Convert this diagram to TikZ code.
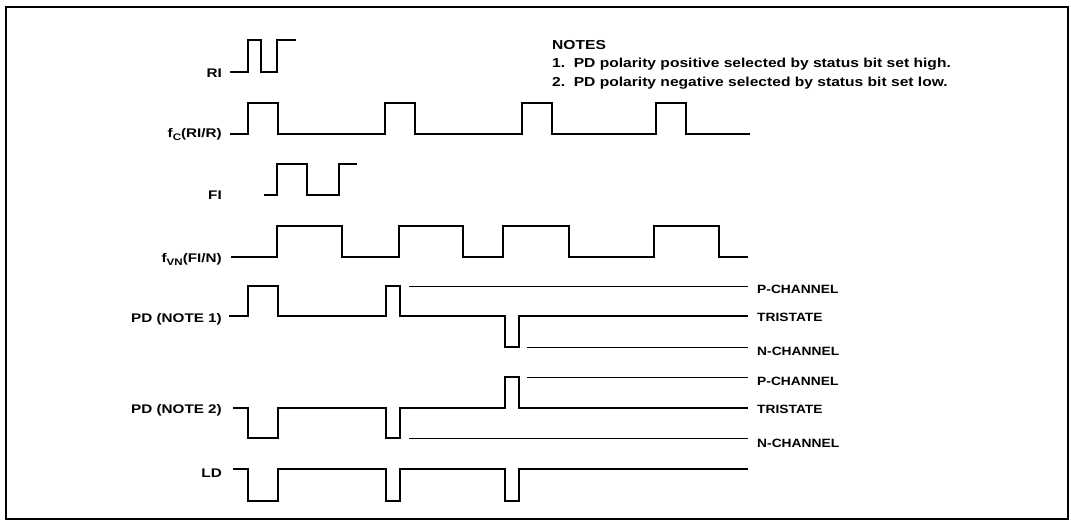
\documentclass[tikz,border=0pt]{standalone}
\usepackage{fontspec}
\setmainfont{Liberation Sans}
\usetikzlibrary{positioning}
\tikzset{wave/.style={line width=1.6pt},
         lead/.style={line width=0.9pt},
         sig/.style={anchor=base east,inner sep=0pt,font=\fontsize{12.5}{14}\selectfont\bfseries},
         chan/.style={inner sep=0pt,font=\fontsize{12}{15}\selectfont\bfseries}}
\newcommand{\lowsub}[1]{\raisebox{-3pt}{\fontsize{9.5}{10}\selectfont #1}}
\newcommand{\wide}[2][1.2]{\scalebox{#1}[1]{#2}}

\begin{document}
\begin{tikzpicture}[x=1pt,y=-1pt]
                   \useasboundingbox (0,0) rectangle (1071,524);
                   \draw[line width=2pt] (6,7) rectangle (1068,519);
                   \node[anchor=north west,inner sep=0pt,align=left,
                         font=\fontsize{13}{18.4}\selectfont\bfseries] (notes) at (552,40)
                        {\wide{NOTES}\\
                         \wide{\makebox[18pt][l]{1.}PD polarity positive selected by status bit set high.}\\
                         \wide{\makebox[18pt][l]{2.}PD polarity negative selected by status bit set low.}};
                   \node[sig] (ri)  at (222,78)  {\wide[1.22]{RI}};
                   \node[sig] (fc)  at (222,138) {\wide[1.22]{f\lowsub{C}(RI/R)}};
                   \node[sig] (fi)  at (222,200) {\wide[1.22]{FI}};
                   \node[sig] (fvn) at (222,262) {\wide[1.22]{f\lowsub{VN}(FI/N)}};
                   \node[sig] (pd1) at (222,322) {\wide[1.22]{PD (NOTE 1)}};
                   \node[sig] (pd2) at (222,413) {\wide[1.22]{PD (NOTE 2)}};
                   \node[sig] (ld)  at (222,477) {\wide[1.22]{LD}};
                    \draw[wave] (230,72) -| (248,40) -| (261,72) -| (277,40) -- (296,40);
                    \draw[wave] (230,134) -| (248,103) -| (278,134) -| (385,103) -| (415,134)
                          -| (522,103) -| (552,134) -| (656,103) -| (686,134) -- (750,134);
                    \draw[wave] (264,195) -| (277,164) -| (307,195) -| (339,164) -- (357,164);
                    \draw[wave] (231,257) -| (277,226) -| (342,257) -| (399,226) -| (463,257)
                          -| (503,226) -| (569,257) -| (654,226) -| (719,257) -- (748,257);
                    \draw[wave] (229,316) -| (248,286) -| (278,316) -| (386,286) -| (400,316)
                          -| (505,347) -| (519,316) -- (748,316) coordinate (t1e);
                    \draw[wave] (233,408) -| (248,438) -| (278,408) -| (386,438) -| (400,408)
                          -| (505,377) -| (519,408) -- (748,408) coordinate (t2e);
                    \draw[wave] (233,469) -| (248,501) -| (278,469) -| (386,501) -| (400,469)
                          -| (505,501) -| (519,469) -- (748,469);
                   \coordinate (p1s) at (409,286);  \coordinate (p1e) at (748,286);
                   \coordinate (n1s) at (527,347);  \coordinate (n1e) at (748,347);
                   \coordinate (p2s) at (527,377);  \coordinate (p2e) at (748,377);
                   \coordinate (n2s) at (409,438);  \coordinate (n2e) at (748,438);
                    \draw[lead] (p1s) -- (p1e);
                    \draw[lead] (n1s) -- (n1e);
                    \draw[lead] (p2s) -- (p2e);
                    \draw[lead] (n2s) -- (n2e);
                   \node[chan] (p1) [right=9pt of p1e,yshift=-3pt] {\wide[1.15]{P-CHANNEL}};
                   \node[chan] (t1) [right=9pt of t1e,yshift=-1pt] {\wide[1.15]{TRISTATE}};
                   \node[chan] (n1) [right=9pt of n1e,yshift=-4pt] {\wide[1.15]{N-CHANNEL}};
                   \node[chan] (p2) [right=9pt of p2e,yshift=-4pt] {\wide[1.15]{P-CHANNEL}};
                   \node[chan] (t2) [right=9pt of t2e,yshift=-1pt] {\wide[1.15]{TRISTATE}};
                   \node[chan] (n2) [right=9pt of n2e,yshift=-5pt] {\wide[1.15]{N-CHANNEL}};
                \end{tikzpicture}
\end{document}
